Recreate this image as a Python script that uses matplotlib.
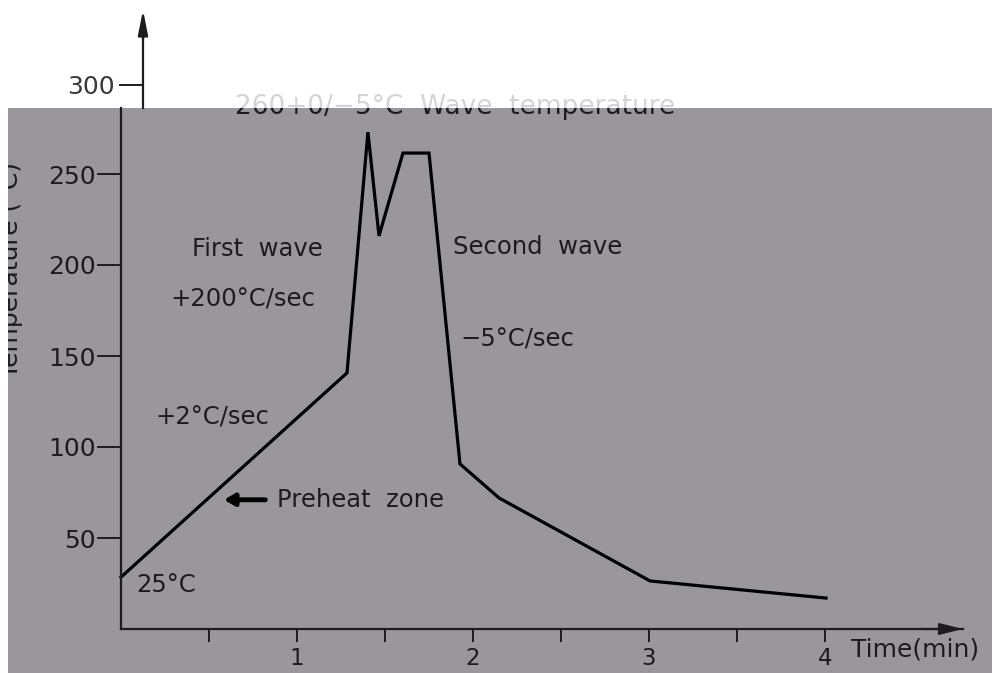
import matplotlib.pyplot as plt
from matplotlib.patches import Rectangle
from matplotlib.transforms import Bbox, TransformedBbox

# datos
time_min = [0.0, 1.284, 1.403, 1.466, 1.602, 1.75, 1.926, 2.148, 3.006, 4.006]
temp_c = [28.5, 140.7, 273.0, 216.0, 261.5, 261.5, 90.7, 72.0, 26.4, 17.0]
x_major = [1, 2, 3, 4]
x_labels = ["1", "2", "3", "4"]
x_minor = [0.5, 1.5, 2.5, 3.5]
y_major = [50, 100, 150, 200, 250]
y_top_tick = [300]

W, H = 992, 673
BG = "#99969c"
INK = "#1c1c20"
FS = 17.5

fig = plt.figure(figsize=(W / 100, H / 100), dpi=100)
fig.patch.set_facecolor("white")


def fx(px):
    return px / W


def fy(py):
    return 1 - py / H


# bloque gris de fondo
bg = Rectangle((fx(8), 0), fx(992) - fx(8), fy(108), transform=fig.transFigure,
               facecolor=BG, edgecolor="none", zorder=-5)
fig.patches.append(bg)

# ejes principales (x=0 en px 121, y=0 en px 629)
ax_l, ax_b, ax_r, ax_t = 121, 629, 963, 108
ax = fig.add_axes([fx(ax_l), fy(ax_b), fx(ax_r - ax_l), fy(ax_t) - fy(ax_b)])
ax.set_facecolor("none")
ax.set_xlim(0, (ax_r - ax_l) / 176)
ax.set_ylim(0, (ax_b - ax_t) / 1.82)
for s in ["top", "right"]:
    ax.spines[s].set_visible(False)
for s in ["left", "bottom"]:
    ax.spines[s].set_linewidth(1.6)
    ax.spines[s].set_color(INK)

ax.plot(time_min, temp_c, color="black", lw=2.3, solid_joinstyle="miter", clip_on=False)

ax.set_xticks(x_major)
ax.set_xticklabels(x_labels)
ax.set_xticks(x_minor, minor=True)
ax.set_yticks(y_major)
ax.tick_params(axis="x", which="both", direction="out", length=9, width=1.4,
               color=INK, labelsize=16.5, labelcolor=INK, pad=4)
ax.tick_params(axis="y", direction="out", length=17, width=1.4, color=INK,
               labelsize=18, labelcolor=INK, pad=1)

# flecha del eje x
ax.annotate("", xy=(ax.get_xlim()[1], 0), xytext=(4.55, 0),
            arrowprops=dict(arrowstyle="-|>,head_length=1.4,head_width=0.35",
                            color=INK, lw=1.6, shrinkA=0, shrinkB=0),
            annotation_clip=False)

# textos
kw = dict(fontsize=FS, color=INK, va="center", ha="left")
ax.text(0.403, 209, "First  wave", **kw)
ax.text(0.278, 181, "+200°C/sec", **kw)
ax.text(0.193, 116, "+2°C/sec", **kw)
ax.text(0.886, 71, "Preheat  zone", **kw)
ax.text(0.085, 24, "25°C", **kw)
ax.text(1.886, 210, "Second  wave", **kw)
ax.text(1.926, 159, "−5°C/sec", **kw)
ax.text(4.15, -11, "Time(min)", fontsize=18, color=INK, va="center", ha="left",
        clip_on=False)
ax.annotate("", xy=(0.585, 71), xytext=(0.82, 71),
            arrowprops=dict(arrowstyle="-|>,head_length=0.6,head_width=0.35",
                            color="black", lw=3.5, shrinkA=0, shrinkB=0))

# texto superior cortado por la zona blanca
top_txt = "260+0/−5°C  Wave  temperature"
gray_box = TransformedBbox(Bbox([[fx(8), 0], [1, fy(108)]]), fig.transFigure)
white_box = TransformedBbox(Bbox([[0, fy(108)], [1, 1]]), fig.transFigure)
t1 = ax.text(0.648, 287, top_txt, fontsize=19, color="#d4d4d4", va="center",
             ha="left")
t1.set_clip_box(white_box)
t1.set_clip_on(True)
t2 = ax.text(0.648, 287, top_txt, fontsize=19, color=INK, va="center",
             ha="left")
t2.set_clip_box(gray_box)
t2.set_clip_on(True)

# parte superior del eje y (desplazada, sobre blanco)
top_l, top_b, top_t = 143, 108, 10
ax2 = fig.add_axes([fx(top_l), fy(top_b), 0.01, fy(top_t) - fy(top_b)])
ax2.set_facecolor("none")
ax2.set_ylim(300 - (top_b - 85) / 1.82, 300 + (85 - top_t) / 1.82)
for s in ["top", "right", "bottom"]:
    ax2.spines[s].set_visible(False)
ax2.spines["left"].set_linewidth(1.6)
ax2.spines["left"].set_color(INK)
ax2.spines["left"].set_bounds(ax2.get_ylim()[0], 300 + (85 - 35) / 1.82)
ax2.set_xticks([])
ax2.set_yticks(y_top_tick)
ax2.tick_params(axis="y", direction="out", length=17, width=1.4, color=INK,
                labelsize=18, labelcolor="#3a3a3a", pad=3)
ax2.annotate("", xy=(0, ax2.get_ylim()[1]), xytext=(0, 300 + (85 - 40) / 1.82),
             xycoords=("axes fraction", "data"),
             arrowprops=dict(arrowstyle="-|>,head_length=1.5,head_width=0.3",
                             color=INK, lw=1.6, shrinkA=0, shrinkB=0),
             annotation_clip=False)

# etiqueta del eje y, cortada por el borde izquierdo
fig.text(fx(11), fy(270), "Temperature (°C)", rotation=90, fontsize=18,
         color=INK, ha="center", va="center")
fig.patches.append(Rectangle((0, 0), fx(8), fy(108), transform=fig.transFigure,
                             facecolor="white", edgecolor="none", zorder=10))

plt.savefig("out.png", dpi=100)
plt.close()
